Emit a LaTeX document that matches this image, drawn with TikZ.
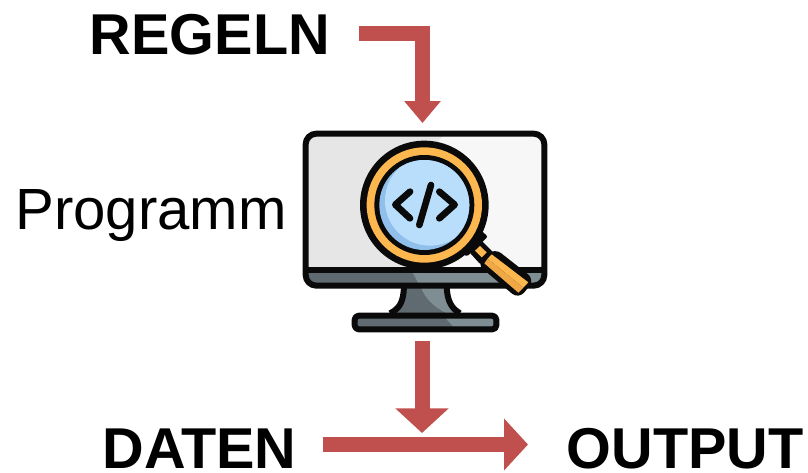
\documentclass[tikz,border=0pt]{standalone}
\usepackage{fontspec}
\setmainfont{Liberation Sans}
\usetikzlibrary{arrows.meta,calc}
\definecolor{arrowred}{HTML}{C0504D}
\definecolor{scrA}{HTML}{E6E6E6}
\definecolor{scrB}{HTML}{F7F7F7}
\definecolor{greyD}{HTML}{5F6B70}
\definecolor{greyL}{HTML}{7F8E93}
\definecolor{orng}{HTML}{FDB74F}
\definecolor{orngD}{HTML}{EFA845}
\definecolor{lensA}{HTML}{B9DEFC}
\definecolor{lensB}{HTML}{8FBFEA}
\definecolor{ink}{HTML}{0A0A0A}
\tikzset{
  big/.style={font=\bfseries\fontsize{43.2}{50}\selectfont,text=black,inner sep=0pt,anchor=base},
  prog/.style={font=\fontsize{43.6}{50}\selectfont,text=black,inner sep=0pt,anchor=base},
  blockarrow/.style={draw=arrowred,line width=11.25pt,line join=miter,
    -{Triangle[length=16.5pt,width=26.5pt,fill=arrowred]}},
  blockarrowB/.style={draw=arrowred,line width=11.25pt,
    -{Triangle[length=18.5pt,width=39pt,fill=arrowred]}},
  blockarrowC/.style={draw=arrowred,line width=11.25pt,
    -{Triangle[length=18pt,width=38pt,fill=arrowred]}},
  outl/.style={draw=ink,line width=4.5pt,line join=round},
  thinl/.style={draw=ink,line width=3.6pt,line cap=round,line join=round},
}
\begin{document}
\begin{tikzpicture}[x=.75pt,y=-.75pt]
\useasboundingbox (0,0) rectangle (808,472);
\node[big] (regeln) at (210,54.5) {REGELN};
\node[prog] (programm) at (151,229.5) {Programm};
\node[big] (daten) at (199.5,468) {DATEN};
\node[big] (output) at (685,468) {OUTPUT};
\node[inner sep=0pt,minimum width=183pt,minimum height=151pt] (monitor) at (425,231.5) {};
% monitor in zoomed coordinates
\begin{scope}[shift={(290,120)},x=.25pt,y=-.25pt]
  % stand
  \path[fill=greyD] (342,500) .. controls (340,545) and (330,565) .. (300,580) -- (510,580) .. controls (485,565) and (472,545) .. (470,500) -- cycle;
  \path[fill=greyL] (392,500) .. controls (405,535) and (430,560) .. (470,580) -- (510,580) .. controls (485,565) and (472,545) .. (470,500) -- cycle;
  \draw[outl] (342,500) .. controls (340,545) and (330,565) .. (300,580);
  \draw[outl] (470,500) .. controls (472,545) and (485,565) .. (510,580);
  % base
  \path[fill=greyD,rounded corners=3pt] (194,587) rectangle (619,628);
  \path[fill=greyL] (460,587) -- (610,587) -- (610,620) -- (490,620) -- cycle;
  \draw[outl,rounded corners=3pt] (194,587) rectangle (619,628);
  % body
  \path[fill=scrA,rounded corners=8pt] (47,41) rectangle (763,497);
  \path[fill=scrB,rounded corners=8pt] (450,41) -- (763,41) -- (763,445) -- (345,445) -- cycle;
  \path[fill=greyD,rounded corners=6pt] (47,450) -- (763,450) -- (763,497) -- (47,497) -- cycle;
  \path[fill=greyL] (365,452) -- (763,452) -- (763,490) -- (385,490) -- cycle;
  \draw[outl] (47,450) -- (763,450);
  \draw[outl,rounded corners=8pt] (47,41) rectangle (763,497);
\end{scope}
% handle, in a zoom of its own
\begin{scope}[shift={(450,220)},x=.25pt,y=-.25pt]
  \path[fill=ink,draw=ink,line width=3pt,line join=round] (92,68) -- (122,98) -- (92,125) -- (62,92) -- cycle;
  \path[fill=orng] (90,78) -- (110,97) -- (95,112) -- (75,92) -- cycle;
  \path[fill=ink,draw=ink,line width=3pt,line join=round,rounded corners=5pt] (134,92) -- (246,180) -- (205,229) -- (88,130) -- cycle;
  \path[fill=orng] (125,103) -- (235,187) -- (220,203) -- (113,116) -- cycle;
  \path[fill=orngD] (113,116) -- (220,203) -- (205,218) -- (103,130) -- cycle;
  \path[fill=ink,draw=ink,line width=3pt,line join=round] (60,10) -- (105,50) -- (50,102) -- (10,70) -- cycle;
  \path[fill=orng] (50,20) -- (85,55) -- (50,90) -- (20,65) -- cycle;
\end{scope}
% lens
\begin{scope}[shift={(290,120)},x=.25pt,y=-.25pt]
  \fill[ink] (403,255) circle[radius=193];
  \fill[orng] (403,255) circle[radius=173];
  \fill[ink] (403,255) circle[radius=150];
  \fill[lensB] (403,255) circle[radius=135];
  \begin{scope}
    \clip (403,255) circle[radius=135];
    \fill[lensA] (420,242) circle[radius=135];
  \end{scope}
  % code symbol
  \draw[thinl,line width=5pt] (360,215) -- (316,254) -- (360,295);
  \draw[thinl,line width=5pt] (448,215) -- (494,254) -- (448,295);
  \draw[thinl,line width=5pt] (423,195) -- (388,315);
\end{scope}
% connectors
\coordinate (a1s) at (359,33.5);
\coordinate (a1e) at (422.5,123);
\coordinate (a2s) at (422,341);
\coordinate (a2e) at (422,433);
\coordinate (a3s) at (323,444.5);
\coordinate (a3e) at (528,444.5);
\draw[blockarrow] (a1s) -| (a1e);
\draw[blockarrowB] (a2s) -- (a2e);
\draw[blockarrowC] (a3s) -- (a3e);
\end{tikzpicture}
\end{document}
